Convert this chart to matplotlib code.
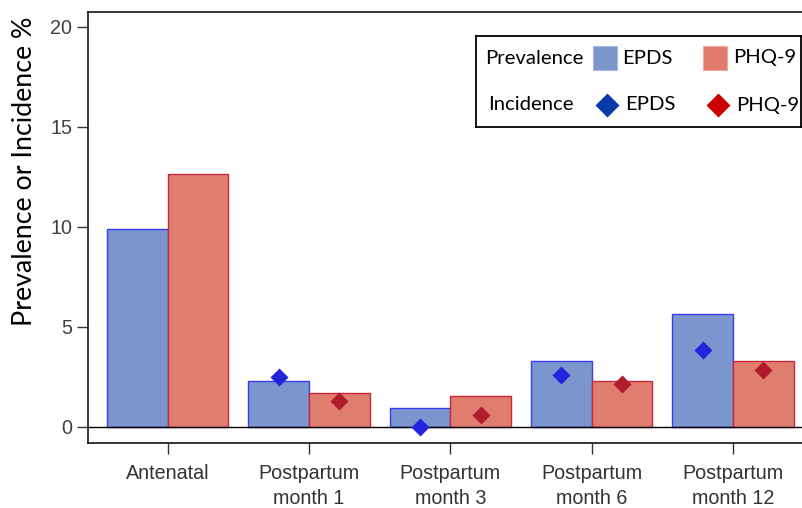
import matplotlib
matplotlib.use("Agg")
import matplotlib.pyplot as plt
import numpy as np
from matplotlib.patches import Rectangle

categories = ["Antenatal", "Postpartum\nmonth 1", "Postpartum\nmonth 3",
              "Postpartum\nmonth 6", "Postpartum\nmonth 12"]
prev_epds = [9.9, 2.27, 0.95, 3.27, 5.65]
prev_phq = [12.63, 1.7, 1.55, 2.28, 3.27]
inc_epds = [None, 2.5, 0.0, 2.57, 3.82]
inc_phq = [None, 1.3, 0.58, 2.12, 2.83]
yticks = [0, 5, 10, 15, 20]

W, H = 803, 508
fig = plt.figure(figsize=(W / 100, H / 100), dpi=100)

left, right, bottom, top = 88.3, 812.4, 443.3, 11.7
ax = fig.add_axes([left / W, 1 - bottom / H, (right - left) / W, (bottom - top) / H])

x = np.arange(len(categories))
bw = 0.43
ax.bar(x - bw / 2, prev_epds, width=bw, color="#7b96cc", edgecolor="#3a3af0", linewidth=1.0, zorder=2)
ax.bar(x + bw / 2, prev_phq, width=bw, color="#df7e6e", edgecolor="#c8283c", linewidth=1.0, zorder=2)

xe = [xi - bw / 2 for xi, v in zip(x, inc_epds) if v is not None]
ye = [v for v in inc_epds if v is not None]
xp = [xi + bw / 2 for xi, v in zip(x, inc_phq) if v is not None]
yp = [v for v in inc_phq if v is not None]
ax.plot(xe, ye, linestyle="none", marker="D", ms=9.2, color="#2424dd", mec="none", zorder=4, clip_on=False)
ax.plot(xp, yp, linestyle="none", marker="D", ms=9.2, color="#b01c2e", mec="none", zorder=4, clip_on=False)

ax.axhline(0, color="black", linewidth=1.0, zorder=3)

ax.set_xlim(-0.562, 4.562)
ax.set_ylim(-0.83, 20.75)
ax.set_yticks(yticks)
ax.set_yticklabels([str(t) for t in yticks], fontsize=14.2, color="#404040", family="Liberation Sans")
ax.set_xticks(x)
ax.set_xticklabels(categories, fontsize=14.2, color="#333333", family="Liberation Sans",
                   linespacing=1.38, va="top")
ax.tick_params(axis="both", direction="out", length=7.7, width=1.0, color="#333333")
ax.tick_params(axis="y", pad=4)
ax.tick_params(axis="x", pad=7.5)
for s in ax.spines.values():
    s.set_linewidth(1.1)
    s.set_color("black")

fig.text(25 / W, 1 - 171.5 / H, "Prevalence or Incidence %", rotation=90, ha="center", va="center",
         fontsize=19.3, family="Lato", color="black")

# Legend drawn in its own pixel-space axes
lx0, lx1, ly0, ly1 = 476, 801, 36, 127
lax = fig.add_axes([lx0 / W, 1 - ly1 / H, (lx1 - lx0) / W, (ly1 - ly0) / H])
lax.set_xlim(lx0, lx1)
lax.set_ylim(ly1, ly0)
lax.set_xticks([])
lax.set_yticks([])
for s in lax.spines.values():
    s.set_linewidth(1.3)
    s.set_color("black")
lfont = dict(family="Lato", fontsize=14.6, color="black", va="center")
r1, r2 = 58, 105
lax.text(485, r1, "Prevalence", ha="left", **lfont)
lax.add_patch(Rectangle((593, 46), 24.5, 23.5, facecolor="#7b96cc", edgecolor="#a8b8e0", lw=0.8))
lax.text(622, r1, "EPDS", ha="left", **lfont)
lax.add_patch(Rectangle((703, 46), 24.5, 23.5, facecolor="#e07b6e", edgecolor="#f0a8a0", lw=0.8))
lax.text(733, r1, "PHQ-9", ha="left", **lfont)
lax.text(488, r2, "Incidence", ha="left", **lfont)
lax.plot([606.7], [r2], marker="D", ms=12.5, color="#0a3aa8", mec="none", linestyle="none")
lax.text(625, r2, "EPDS", ha="left", **lfont)
lax.plot([718], [r2], marker="D", ms=12.5, color="#cc0000", mec="none", linestyle="none")
lax.text(736, r2, "PHQ-9", ha="left", **lfont)

fig.savefig("out.png", dpi=100)
